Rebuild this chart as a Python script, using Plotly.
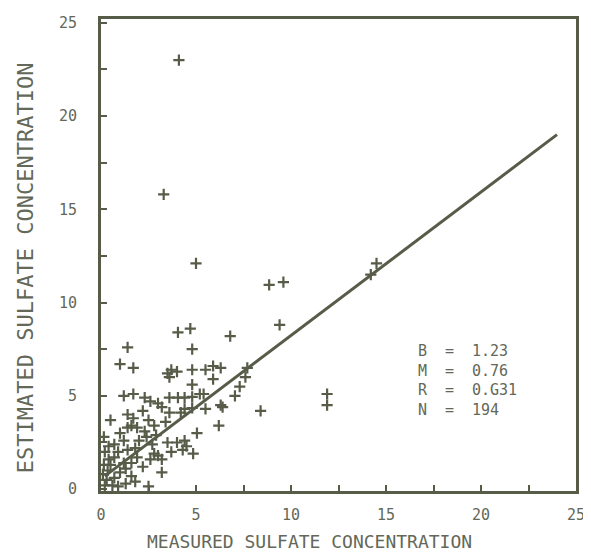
import plotly.graph_objects as go

# Measured (x) vs estimated (y) sulfate concentration
measured = [4.1, 3.3, 5.0, 8.85, 9.6, 9.4, 14.2, 14.5, 11.9, 11.9, 8.4,
            6.8, 4.7, 4.05, 4.8, 1.4, 1.0, 1.7, 4.8, 3.5, 3.7, 4.0, 3.6, 4.8,
            5.5, 5.9, 6.3, 5.9, 7.7, 7.6, 7.3, 7.05, 6.4, 6.3, 6.2, 5.4, 5.2,
            5.5, 5.05, 4.85,
            1.2, 1.7, 2.3, 2.6, 3.0, 3.2, 3.6, 4.05, 4.4, 4.8,
            1.4, 2.2, 0.5, 3.6, 4.2, 4.4, 4.8,
            1.4, 1.6, 1.9, 2.3, 2.8, 3.4, 2.4, 2.9, 3.5, 4.0, 4.4,
            0.4, 0.7, 1.2, 1.4, 1.8, 3.7, 4.3, 4.5,
            0.4, 0.7, 1.2, 1.6, 1.9, 2.6, 2.8, 3.0, 3.2,
            3.2, 0.35, 0.7, 1.3, 1.6, 1.8, 0.6, 0.9, 2.5, 0.2, 0.3,
            1.0, 2.0, 0.9, 2.2, 1.0, 0.5, 2.7, 1.7, 2.5, 0.2, 0.1, 1.3,
            0.15, 0.15]
estimated = [23.0, 15.8, 12.1, 10.95, 11.1, 8.8, 11.5, 12.1, 5.1, 4.5, 4.2,
             8.2, 8.6, 8.4, 7.5, 7.6, 6.7, 6.5, 6.4, 6.2, 6.4, 6.3, 6.0, 5.6,
             6.4, 6.6, 6.5, 5.9, 6.5, 6.0, 5.5, 5.0, 4.4, 4.5, 3.4, 5.1, 5.1,
             4.3, 3.0, 1.9,
             5.0, 5.1, 4.9, 4.7, 4.6, 4.4, 4.9, 4.9, 4.9, 4.95,
             4.0, 4.2, 3.7, 4.1, 4.1, 4.3, 4.35,
             3.3, 3.4, 3.3, 3.1, 3.4, 3.6, 2.8, 2.9, 2.5, 2.5, 2.6,
             2.3, 2.4, 2.6, 2.1, 2.2, 2.0, 2.1, 2.3,
             1.6, 1.7, 1.4, 1.4, 1.7, 1.6, 1.9, 1.8, 1.6,
             0.9, 1.0, 0.6, 1.1, 0.7, 0.4, 0.2, 0.15, 0.15, 0.2, 0.5,
             3.0, 2.6, 2.0, 1.2, 0.9, 1.3, 2.4, 3.8, 3.7, 2.0, 0.8, 0.3,
             1.3, 2.8]

# Fitted line end points as drawn
line_x = [0.2, 24.0]
line_y = [0.7, 19.0]

stat_names = ["B", "M", "R", "N"]
stat_values = ["1.23", "0.76", "0.G31", "194"]

x_ticks = [0, 5, 10, 15, 20, 25]
y_ticks = [0, 5, 10, 15, 20, 25]

INK = "#575c49"
TXT = "#636858"
FONT = "DejaVu Sans Mono"

fig = go.Figure()
fig.add_trace(go.Scatter(x=line_x, y=line_y, mode="lines",
                         line=dict(color=INK, width=3), hoverinfo="skip"))
fig.add_trace(go.Scatter(x=measured, y=estimated, mode="markers",
                         marker=dict(symbol="cross-thin", size=8,
                                     line=dict(color=INK, width=2.2))))

stat_y = 8.0
for xpos, lines in [(16.6, stat_names), (18.0, ["="] * len(stat_names)), (19.4, stat_values)]:
    fig.add_annotation(x=xpos, y=stat_y, xref="x", yref="y", xanchor="left", yanchor="top",
                       text="<br>".join(lines), showarrow=False, align="left",
                       font=dict(family=FONT, size=15, color=TXT))

fig.add_annotation(x=0.438, y=0, xref="paper", yref="paper", xanchor="center",
                   yanchor="middle", yshift=-50, showarrow=False,
                   text="MEASURED SULFATE CONCENTRATION",
                   font=dict(family=FONT, size=18, color=TXT))
fig.add_annotation(x=0, y=0.472, xref="paper", yref="paper", xanchor="center",
                   yanchor="middle", xshift=-76, showarrow=False, textangle=-90,
                   text="ESTIMATED SULFATE CONCENTRATION",
                   font=dict(family=FONT, size=22, color=TXT))

axis_common = dict(
    showline=True, linewidth=3, linecolor=INK, mirror=True,
    showgrid=False, zeroline=False, automargin=False,
    ticks="inside", ticklen=6, tickwidth=2, tickcolor=INK,
    minor=dict(ticks="inside", ticklen=6, tickwidth=2, tickcolor=INK, dtick=2.5),
    tickfont=dict(family=FONT, size=15, color=TXT),
)

# the page body has an 8px default margin, so the figure is sized/offset to compensate
fig.update_layout(
    width=583, height=551,
    margin=dict(l=93, r=15, t=11, b=68),
    paper_bgcolor="white", plot_bgcolor="white",
    showlegend=False,
    xaxis=dict(range=[0, 25], tickvals=x_ticks, ticklabelstandoff=8, **axis_common),
    yaxis=dict(range=[-0.1, 25.2], tickvals=y_ticks, ticklabelstandoff=18, **axis_common),
)

fig.write_html("out.html")
